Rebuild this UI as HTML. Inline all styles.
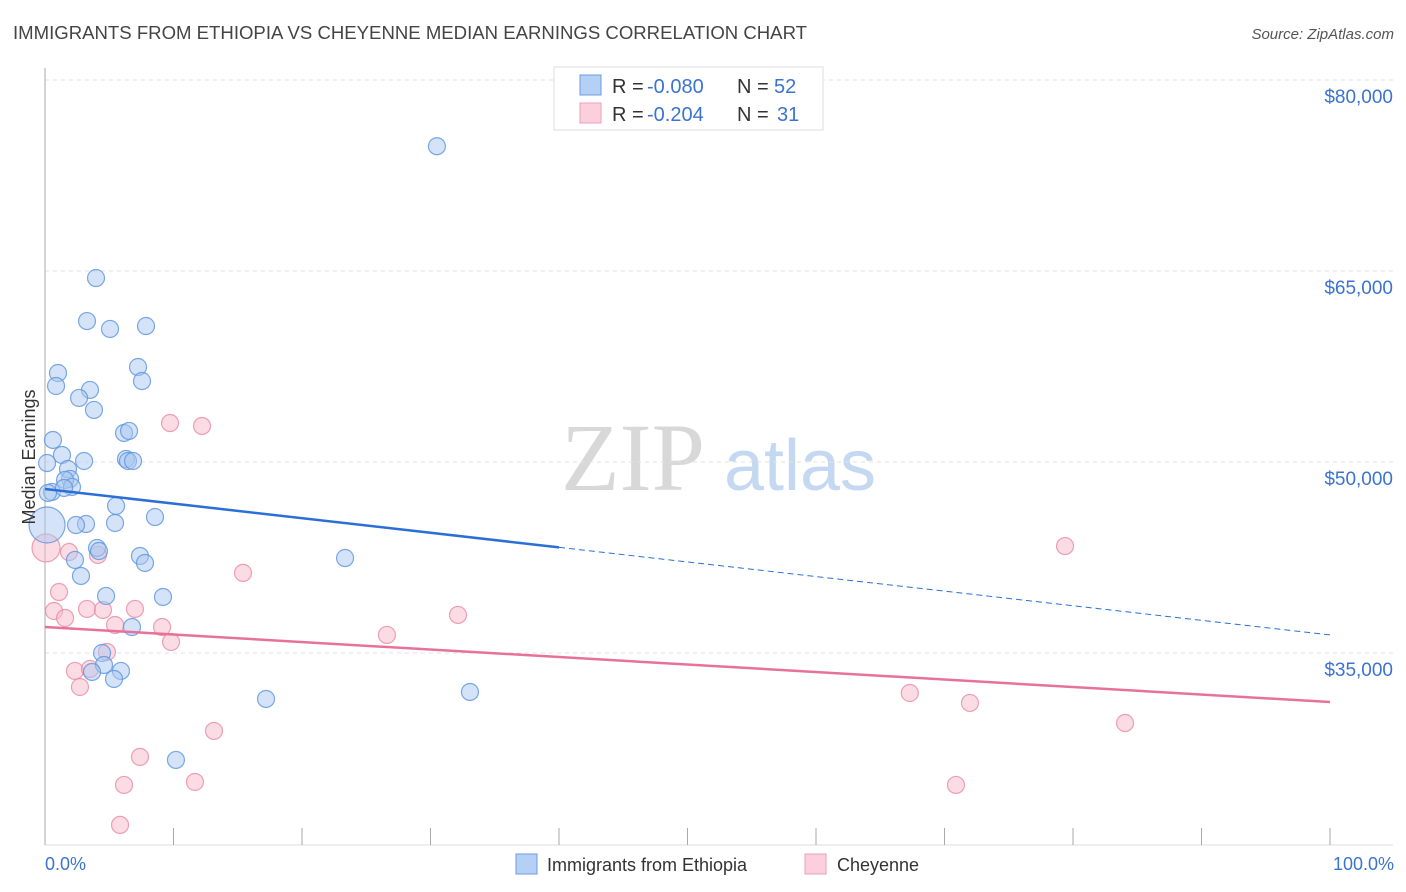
<!DOCTYPE html>
<html><head><meta charset="utf-8"><style>
body{margin:0;background:#fff;font-family:"Liberation Sans",sans-serif}
svg{display:block}
</style></head><body>
<svg id="chart" width="1406" height="892" xmlns="http://www.w3.org/2000/svg">
<text x="13" y="39" font-size="18" fill="#444" textLength="794" lengthAdjust="spacingAndGlyphs">IMMIGRANTS FROM ETHIOPIA VS CHEYENNE MEDIAN EARNINGS CORRELATION CHART</text>
<text x="1394" y="39" font-size="15" fill="#555" text-anchor="end" font-style="italic">Source: ZipAtlas.com</text>
<g>
<text x="633" y="490" font-size="96" font-family="Liberation Serif,serif" fill="#d8d8d8" text-anchor="middle">ZIP</text>
<text x="800" y="490" font-size="72" fill="#c5d8f2" text-anchor="middle">atlas</text>
</g>
<g id="grid"></g>
<g id="axes"></g>
<g id="marks"></g>
<text transform="translate(35,457) rotate(-90)" font-size="18" fill="#333" text-anchor="middle">Median Earnings</text>
<text x="45" y="870" font-size="18" fill="#3b73d1">0.0%</text>
<text x="1394" y="870" font-size="18" fill="#3b73d1" text-anchor="end">100.0%</text>
<g>
<rect x="554" y="67" width="269" height="63" fill="#fff" stroke="#ddd"/>
<rect x="580" y="75" width="21" height="20" fill="#b5d0f5" stroke="#6a9de0"/>
<rect x="580" y="103" width="21" height="20" fill="#fbd0dc" stroke="#eba0b8"/>
<text x="612" y="93" font-size="20" fill="#333">R = </text>
<text x="647" y="93" font-size="20" fill="#3b73d1">-0.080</text>
<text x="737" y="93" font-size="20" fill="#333">N = </text>
<text x="774" y="93" font-size="20" fill="#3b73d1">52</text>
<text x="612" y="121" font-size="20" fill="#333">R = </text>
<text x="647" y="121" font-size="20" fill="#3b73d1">-0.204</text>
<text x="737" y="121" font-size="20" fill="#333">N = </text>
<text x="777" y="121" font-size="20" fill="#3b73d1">31</text>
</g>
<g>
<rect x="516" y="854" width="21" height="20" fill="#b5d0f5" stroke="#6a9de0"/>
<text x="547" y="871" font-size="18" fill="#333">Immigrants from Ethiopia</text>
<rect x="805" y="854" width="21" height="20" fill="#fbd0dc" stroke="#eba0b8"/>
<text x="837" y="871" font-size="18" fill="#333">Cheyenne</text>
</g>
</svg>
<script>
const yTicks=[80000,65000,50000,35000];
const yTickLabels=["$80,000","$65,000","$50,000","$35,000"];
const xTicks=[0,10,20,30,40,50,60,70,80,90,100];
const blueX=[30.5,3.97,3.27,5.06,7.86,7.24,7.55,1.01,0.86,3.5,2.65,3.81,6.15,6.54,0.62,1.32,0.16,3.04,6.3,6.46,6.85,1.79,1.95,1.56,0.54,2.1,1.48,0.16,3.19,2.41,5.53,5.45,8.56,4.05,4.2,7.39,7.78,23.35,2.33,2.8,9.18,4.75,6.77,4.44,4.59,3.66,5.91,5.37,17.2,33.07,10.19,0.23];
const blueY=[74800,64450,61070,60450,60680,57460,56360,56990,55970,55660,55030,54090,52280,52440,51730,50550,49920,50080,50240,50080,50080,49450,48670,48590,47650,48040,47960,45050,45130,45050,46550,45210,45680,43250,43010,42620,42070,42460,42310,41050,39400,39480,37040,35000,34060,33510,33590,32960,31390,31940,26600,47570];
const blueBig=[27];
const pinkX=[9.73,12.22,0.08,1.87,4.12,15.41,1.09,0.7,1.56,3.27,4.51,7.0,5.45,9.11,9.81,32.14,26.61,4.82,2.33,3.5,2.72,79.38,67.3,71.98,84.05,13.15,7.39,11.67,6.15,70.89,5.84];
const pinkY=[53060,52830,43250,42930,42700,41290,39790,38300,37750,38460,38380,38460,37200,37040,35870,37990,36420,35080,33590,33750,32330,43400,31860,31080,29500,28880,26840,24870,24640,24640,21500];
const pinkBig=[2];
const blueTrend=[47880,36420];
const pinkTrend=[37040,31150];
const blueSolidEnd=40;

const NS="http://www.w3.org/2000/svg";
const X0=45,X1=1330,Y80=80,PX=191/15000;
const sx=p=>X0+(X1-X0)*p/100;
const sy=v=>Y80+(80000-v)*PX;
function mk(tag,attrs,parent){const e=document.createElementNS(NS,tag);for(const k in attrs)e.setAttribute(k,attrs[k]);parent.appendChild(e);return e;}
const grid=document.getElementById('grid'),axes=document.getElementById('axes'),marks=document.getElementById('marks');
yTicks.forEach((v,i)=>{
 const l=mk('line',{x1:X0,x2:1393,y1:sy(v),y2:sy(v),stroke:'#e2e2e2','stroke-dasharray':'4,4'},grid);
 
 
 const t=mk('text',{x:1393,y:sy(v)+23,'font-size':19,fill:'#3b73d1','text-anchor':'end'},grid);
 t.textContent=yTickLabels[i];
 
 
});
const ya=mk('line',{x1:X0,x2:X0,y1:68,y2:845,stroke:'#aaa'},axes);


const xa=mk('line',{x1:X0,x2:1393,y1:845,y2:845,stroke:'#ddd'},axes);


xTicks.forEach(p=>{
 const t=mk('line',{x1:sx(p),x2:sx(p),y1:828,y2:845,stroke:'#aaa'},axes);
 
 
});
function pts(xs,ys,big,fill,stroke,name){
 xs.forEach((x,i)=>{
  const r=big.includes(i)?(name==='blue'?18:14):8.5;
  const c=mk('circle',{cx:sx(x),cy:sy(ys[i]),r:r,fill:fill,'fill-opacity':0.5,stroke:stroke,'stroke-opacity':0.8,'stroke-width':1.2},marks);
  
  
 });
}
pts(pinkX,pinkY,pinkBig,'#f7b9cb','#e88aa5','cheyenne');
pts(blueX,blueY,blueBig,'#a9c8f0','#5b93e0','blue');
const bAt=p=>blueTrend[0]+(blueTrend[1]-blueTrend[0])*p/100;
const b1=mk('line',{x1:sx(0),y1:sy(bAt(0)),x2:sx(blueSolidEnd),y2:sy(bAt(blueSolidEnd)),stroke:'#2b6fd6','stroke-width':2.5},marks);


const b2=mk('line',{x1:sx(blueSolidEnd),y1:sy(bAt(blueSolidEnd)),x2:sx(100),y2:sy(bAt(100)),stroke:'#2b6fd6','stroke-width':1,'stroke-dasharray':'6,4'},marks);


const p1=mk('line',{x1:sx(0),y1:sy(pinkTrend[0]),x2:sx(100),y2:sy(pinkTrend[1]),stroke:'#e8719a','stroke-width':2.5},marks);


</script>
</body></html>
